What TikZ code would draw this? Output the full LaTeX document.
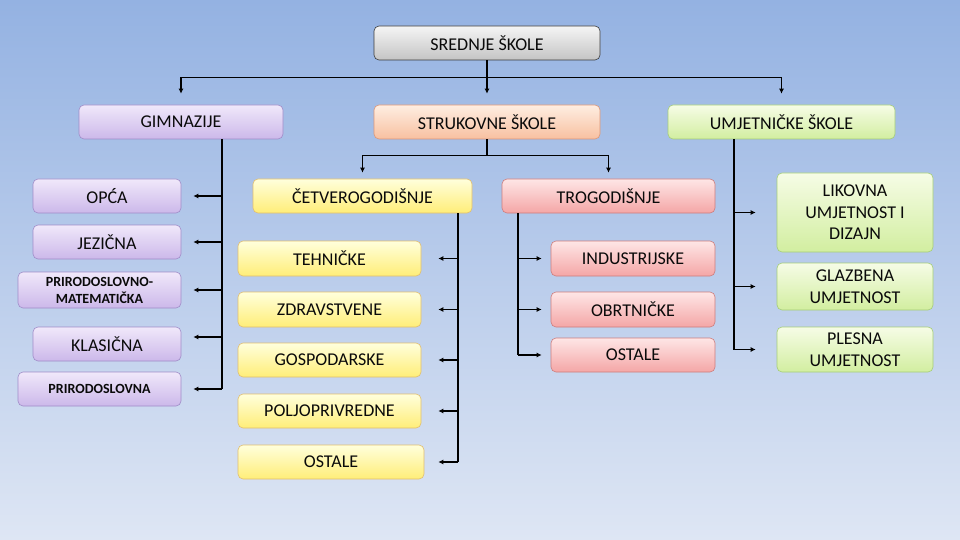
\documentclass[tikz,border=0pt]{standalone}
\usepackage{fontspec}
\setmainfont{Carlito}
\usetikzlibrary{arrows.meta,calc}
\definecolor{bgtop}{RGB}{148,178,226}
\definecolor{bgbot}{RGB}{222,230,244}
\definecolor{txt}{RGB}{10,10,10}
\definecolor{grT}{RGB}{245,245,245}\definecolor{grB}{RGB}{196,196,196}\definecolor{grD}{RGB}{60,60,60}
\definecolor{puT}{RGB}{240,232,250}\definecolor{puB}{RGB}{204,184,234}\definecolor{puD}{RGB}{160,140,200}
\definecolor{peT}{RGB}{254,238,226}\definecolor{peB}{RGB}{248,192,160}\definecolor{peD}{RGB}{220,150,120}
\definecolor{gnT}{RGB}{246,252,230}\definecolor{gnB}{RGB}{210,238,160}\definecolor{gnD}{RGB}{165,205,120}
\definecolor{yeT}{RGB}{255,255,220}\definecolor{yeB}{RGB}{255,238,120}\definecolor{yeD}{RGB}{225,190,110}
\definecolor{rdT}{RGB}{254,230,230}\definecolor{rdB}{RGB}{244,166,166}\definecolor{rdD}{RGB}{205,125,125}
\tikzset{
  box/.style={draw, rounded corners=5pt, inner sep=0pt, align=center, text=txt,
    line width=0.6pt, font=\fontsize{18}{21.5}\selectfont},
  small/.style={font=\fontsize{14}{17}\selectfont\bfseries},
  grbox/.style={box, top color=grT, bottom color=grB, draw=grD},
  pubox/.style={box, top color=puT, bottom color=puB, draw=puD},
  pebox/.style={box, top color=peT, bottom color=peB, draw=peD},
  gnbox/.style={box, top color=gnT, bottom color=gnB, draw=gnD},
  yebox/.style={box, top color=yeT, bottom color=yeB, draw=yeD},
  rdbox/.style={box, top color=rdT, bottom color=rdB, draw=rdD},
  ln/.style={line width=1.4pt, black},
  arr/.style={ln, -{Latex[length=5pt,width=5pt]}},
}
\begin{document}
\begin{tikzpicture}[x=1pt,y=-1pt]
\useasboundingbox (0,0) rectangle (960,540);
\shade[top color=bgtop, bottom color=bgbot] (0,0) rectangle (960,540);

% top level
\node[grbox, minimum width=226, minimum height=34] (sred) at (487,43) {SREDNJE ŠKOLE};
\node[pubox, minimum width=204, minimum height=34] (gim) at (181,122) {GIMNAZIJE};
\node[pebox, minimum width=226, minimum height=34] (struk) at (487,122) {STRUKOVNE ŠKOLE};
\node[gnbox, minimum width=227, minimum height=34] (umj) at (781.5,122) {UMJETNIČKE ŠKOLE};

% gimnazije
\node[pubox, minimum width=148, minimum height=34] (opca) at (107,196) {OPĆA};
\node[pubox, minimum width=148, minimum height=34] (jez) at (107,242) {JEZIČNA};
\node[pubox, small, minimum width=163, minimum height=36] (pm) at (99.5,290) {PRIRODOSLOVNO-\\MATEMATIČKA};
\node[pubox, minimum width=148, minimum height=34] (klas) at (107,344) {KLASIČNA};
\node[pubox, small, minimum width=163, minimum height=34] (prir) at (99.5,389) {PRIRODOSLOVNA};

% strukovne
\node[yebox, minimum width=219, minimum height=34] (cet) at (362.5,196) {ČETVEROGODIŠNJE};
\node[yebox, minimum width=183, minimum height=35] (teh) at (329.5,258.5) {TEHNIČKE};
\node[yebox, minimum width=183, minimum height=35] (zdr) at (329.5,309.5) {ZDRAVSTVENE};
\node[yebox, minimum width=183, minimum height=34] (gosp) at (329.5,360) {GOSPODARSKE};
\node[yebox, minimum width=183, minimum height=34] (polj) at (329.5,411) {POLJOPRIVREDNE};
\node[yebox, minimum width=186, minimum height=34] (ost1) at (331,462) {OSTALE};

\node[rdbox, minimum width=213, minimum height=34] (tro) at (608.5,196) {TROGODIŠNJE};
\node[rdbox, minimum width=164, minimum height=35] (ind) at (633,258.5) {INDUSTRIJSKE};
\node[rdbox, minimum width=164, minimum height=35] (obrt) at (633,309.5) {OBRTNIČKE};
\node[rdbox, minimum width=164, minimum height=34] (ost2) at (633,355) {OSTALE};

% umjetnicke
\node[gnbox, minimum width=156, minimum height=79] (lik) at (855,212.5) {LIKOVNA\\UMJETNOST I\\DIZAJN};
\node[gnbox, minimum width=156, minimum height=47] (glaz) at (855,286.5) {GLAZBENA\\UMJETNOST};
\node[gnbox, minimum width=156, minimum height=45] (ples) at (855,349.5) {PLESNA\\UMJETNOST};

% connectors top
\draw[ln] (sred.south) -- ++(0,17) coordinate (hm);
\draw[arr, shorten >=11pt] (hm) -| (gim.north);
\draw[arr, shorten >=11pt] (hm) -| (umj.north);
\draw[arr, shorten >=11pt] (sred.south) -- (struk.north);

% gimnazije
\coordinate (gx) at (222,0);
\draw[ln] (gx |- gim.south) -- (gx |- prir.east);
\foreach \n in {opca,jez,pm,prir} \draw[arr, shorten >=12pt] (gx |- \n.east) -- (\n.east);
\draw[arr, shorten >=12pt] (gx |- 0,337) -- ($(klas.east)+(0,-7)$);

% strukovne
\draw[ln] (struk.south) -- ++(0,16) coordinate (sm);
\draw[arr, shorten >=6pt] (sm) -| (cet.north);
\draw[arr, shorten >=6pt] (sm) -| (tro.north);

\coordinate (cx) at (458,0);
\draw[ln] (cx |- cet.south) -- (cx |- ost1.east);
\foreach \n in {teh,zdr,gosp,polj} \draw[arr, shorten >=17pt] (cx |- \n.east) -- (\n.east);
\draw[arr, shorten >=14pt] (cx |- ost1.east) -- (ost1.east);

\coordinate (tx) at (518,0);
\draw[ln] (tx |- tro.south) -- (tx |- ost2.west);
\foreach \n in {ind,obrt,ost2} \draw[arr, shorten >=9pt] (tx |- \n.west) -- (\n.west);

% umjetnicke
\coordinate (ux) at (734,0);
\draw[ln] (ux |- umj.south) -- (ux |- ples.west);
\foreach \n in {lik,glaz,ples} \draw[arr, shorten >=21pt] (ux |- \n.west) -- (\n.west);
\end{tikzpicture}
\end{document}
